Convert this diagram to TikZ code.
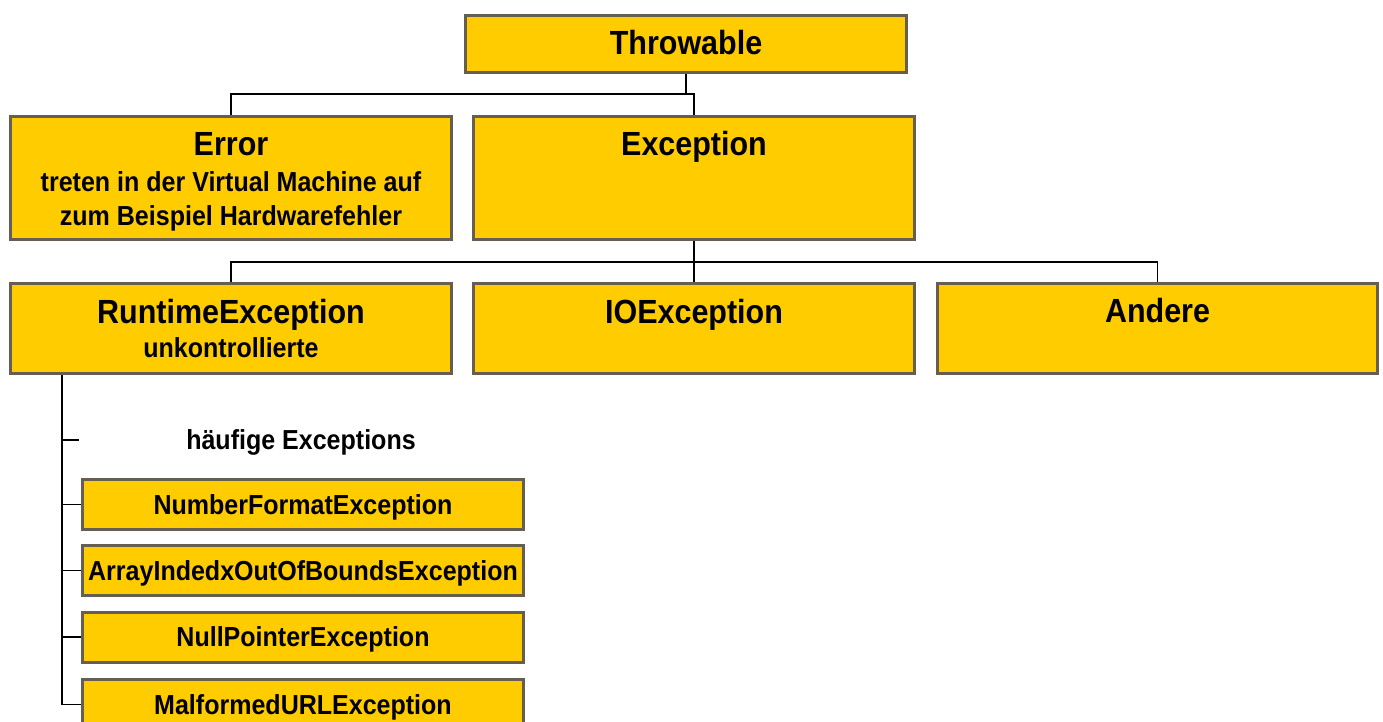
\documentclass[tikz,border=0pt]{standalone}
\usepackage{fontspec}
\setmainfont[FakeStretch=0.91]{Liberation Sans}
\usetikzlibrary{calc}
\definecolor{boxfill}{HTML}{FFCC00}
\definecolor{boxline}{HTML}{665E50}
\tikzset{
  x=1pt, y=-1pt,
  box/.style={draw=boxline, fill=boxfill, line width=3pt, rectangle,
    inner sep=0pt, minimum width=441pt},
  bigbox/.style={box, minimum height=123pt},
  midbox/.style={box, minimum height=90pt},
  listbox/.style={box, minimum height=50pt, text height=19.5pt, text depth=0pt,
    font=\bfseries\fontsize{27.5}{30}\selectfont},
  title/.style={anchor=base, inner sep=0pt, font=\bfseries\fontsize{33.5}{36}\selectfont},
  subtitle/.style={anchor=base, inner sep=0pt, align=center,
    font=\bfseries\fontsize{27.5}{34}\selectfont},
  link/.style={draw=black, line width=1.5pt},
}
\begin{document}
\begin{tikzpicture}
  \useasboundingbox (0,0) rectangle (1383,722);
  \clip (0,0) rectangle (1383,722);

  % class boxes
  \node[box, minimum height=57pt] (throw) at (686,44) {};
  \node[bigbox] (error) at (231,178) {};
  \node[bigbox] (exc) at (694,178) {};
  \node[midbox] (rt) at (231,328.5) {};
  \node[midbox] (io) at (694,328.5) {};
  \node[midbox, minimum width=440pt] (other) at (1157.5,328.5) {};

  % box texts
  \node[title] (tthrow) at (686,55) {Throwable};
  \node[title] (terror) at (231,156) {Error};
  \node[subtitle] (serror1) at (231,191) {treten in der Virtual Machine auf};
  \node[subtitle] (serror2) at (231,225) {zum Beispiel Hardwarefehler};
  \node[title] (texc) at (694,156) {Exception};
  \node[title] (trt) at (231,323) {RuntimeException};
  \node[subtitle] (srt) at (231,357) {unkontrollierte};
  \node[title] (tio) at (694,323) {IOException};
  \node[title] (tother) at (1157.5,322) {Andere};

  % common exceptions
  \node[subtitle, anchor=center, text height=19.5pt, text depth=0pt] (freq) at (301,440) {häufige Exceptions};
  \node[listbox] (nfe) at (303,504.5) {NumberFormatException};
  \node[listbox] (aio) at (303,570.5) {ArrayIndedxOutOfBoundsException};
  \node[listbox] (npe) at (303,637) {NullPointerException};
  \node[listbox] (mal) at (303,704.5) {MalformedURLException};

  % hierarchy links
  \draw[link] (throw.south) -- ++(0,20) coordinate (j1);
  \draw[link] (error.north) |- (j1);
  \draw[link] (exc.north) |- (j1);
  \draw[link] (exc.south) -- ++(0,21) coordinate (j2);
  \draw[link] (rt.north) |- (j2);
  \draw[link] (other.north) |- (j2);
  \draw[link] (io.north) -- (j2);

  % spine under RuntimeException
  \coordinate (spine) at ($(rt.south west)+(53,0)$);
  \draw[link] (spine) |- (mal.west);
  \draw[link] (spine |- freq) -- ++(17,0);
  \draw[link] (nfe.west) -- (spine |- nfe.west);
  \draw[link] (aio.west) -- (spine |- aio.west);
  \draw[link] (npe.west) -- (spine |- npe.west);
\end{tikzpicture}
\end{document}
